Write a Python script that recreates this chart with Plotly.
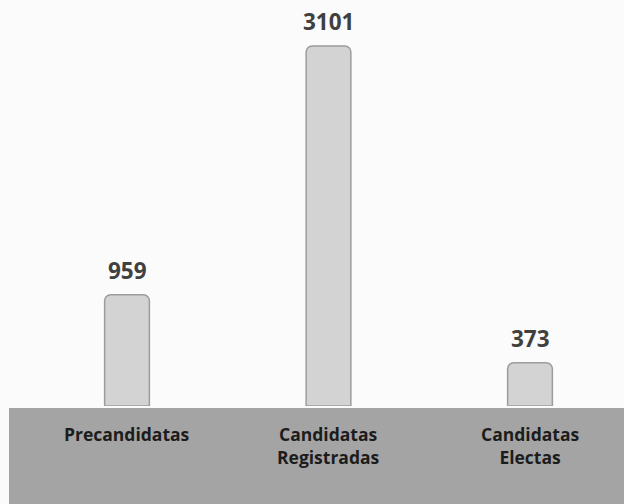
import plotly.graph_objects as go

categories = ["Precandidatas", "Candidatas<br>Registradas", "Candidatas<br>Electas"]
values = [959, 3101, 373]
value_labels = ["959", "3101", "373"]

xpos = list(range(len(categories)))

W, H = 624, 504
PB = 98
PH = H - PB

fig = go.Figure()
fig.add_trace(go.Bar(
    x=xpos, y=values, width=0.222,
    marker=dict(color="#d3d3d3", line=dict(color="#9c9c9c", width=1.5), cornerradius=6),
    hoverinfo="skip",
))

# gray band at bottom
fig.add_shape(type="rect", xref="paper", yref="paper", x0=9/W, x1=1, y0=-PB/PH, y1=-2/PH,
              fillcolor="#a4a4a4", line=dict(width=0), layer="below")

for xi, v, t in zip(xpos, values, value_labels):
    fig.add_annotation(x=xi, y=v, text="<b>%s</b>" % t, showarrow=False, yanchor="bottom",
                       yshift=7, font=dict(family="Open Sans", size=22.5, color="#404040"))

for xi, c in zip(xpos, categories):
    fig.add_annotation(x=xi, y=0, yref="paper", text="<b>%s</b>" % c, showarrow=False,
                       yanchor="top", yshift=-14, font=dict(family="Open Sans", size=17.5, color="#1c1c1c"))

# x: pixel = 127 + 201.5 * x ; y: 3101 -> 360 px above the base at 406
fig.update_layout(
    width=W, height=H,
    margin=dict(l=0, r=0, t=0, b=PB),
    paper_bgcolor="#fbfbfb", plot_bgcolor="#fbfbfb",
    showlegend=False,
    xaxis=dict(range=[-127/201.5, (W-127)/201.5], showticklabels=False, showgrid=False,
               zeroline=False, fixedrange=True),
    yaxis=dict(range=[0, 3101*PH/360], visible=False, showgrid=False, zeroline=False),
)

fig.write_html("out.html", config={"displayModeBar": False},
               post_script="document.body.style.margin='0';document.body.style.overflow='hidden';")
